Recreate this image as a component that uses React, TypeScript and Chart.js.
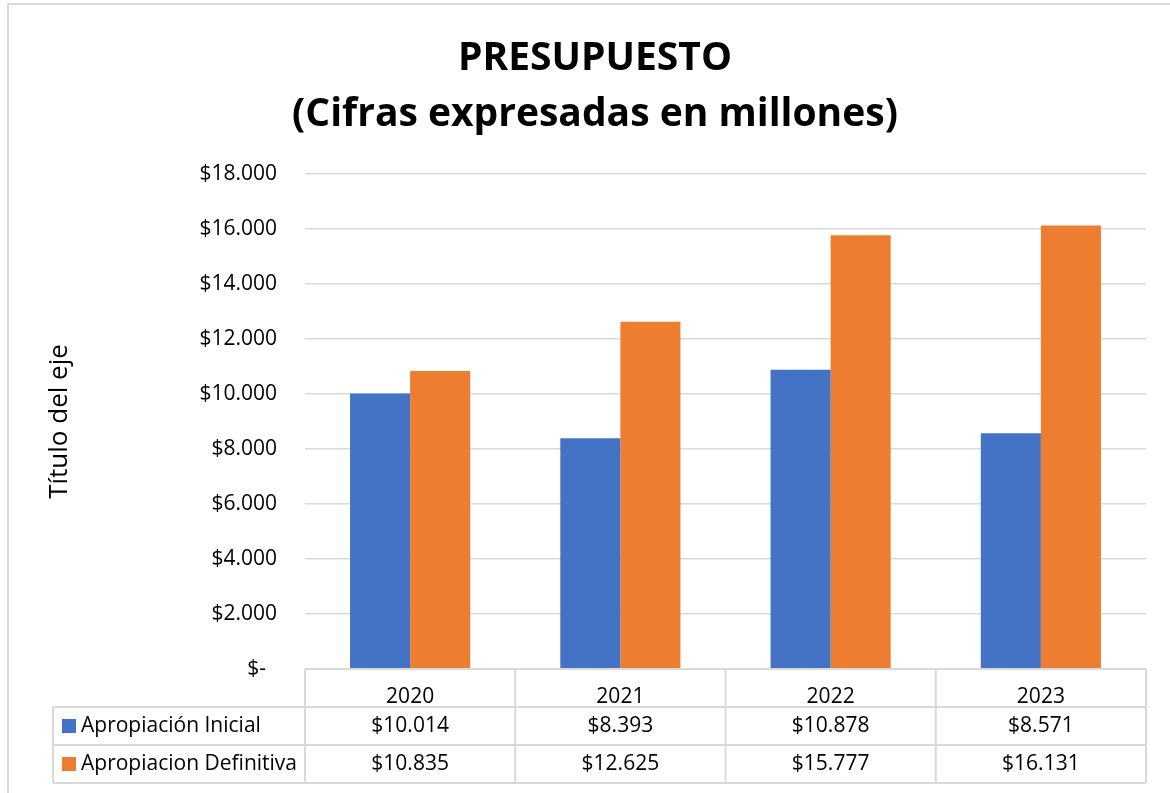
import React, { useEffect, useRef } from "react";
import { Chart, registerables } from "chart.js";

Chart.register(...registerables);

const categories = ["2020", "2021", "2022", "2023"];
const seriesNames = ["Apropiación Inicial", "Apropiacion Definitiva"];
const inicial = [10014, 8393, 10878, 8571];
const definitiva = [10835, 12625, 15777, 16131];
const seriesColors = ["#4472C4", "#ED7D31"];
const titleLines = ["PRESUPUESTO", "(Cifras expresadas en millones)"];
const yAxisTitle = "Título del eje";
const yMin = 0;
const yMax = 18000;
const yStep = 2000;

const FONT = "'Open Sans'";
const GRID = "#d9d9d9";
const TXT = 21;

function fmt(v: number): string {
  if (v === 0) return "$-  ";
  const s = Math.round(v).toString().replace(/\B(?=(\d{3})+(?!\d))/g, ".");
  return "$" + s;
}

const tablePlugin = {
  id: "dataTable",
  afterDraw(chart: any) {
    const { ctx, chartArea } = chart;
    const x = chart.scales.x;
    const left = chartArea.left;
    const right = chartArea.right;
    const colW = (right - left) / categories.length;
    const rowH = 38;
    const top = chartArea.bottom;
    const tableLeft = 53;
    ctx.save();
    ctx.strokeStyle = GRID;
    ctx.lineWidth = 2;
    // outer chart border
    ctx.strokeRect(8, 4, 1300, 1000);
    ctx.beginPath();
    ctx.moveTo(left, top);
    ctx.lineTo(right, top);
    for (let r = 1; r <= 3; r++) {
      ctx.moveTo(tableLeft, top + r * rowH);
      ctx.lineTo(right, top + r * rowH);
    }
    for (let c = 0; c <= categories.length; c++) {
      const cx = left + c * colW;
      ctx.moveTo(cx, top);
      ctx.lineTo(cx, top + 3 * rowH);
    }
    ctx.moveTo(tableLeft, top + rowH);
    ctx.lineTo(tableLeft, top + 3 * rowH);
    ctx.stroke();

    ctx.font = `${TXT}px ${FONT}`;
    ctx.fillStyle = "#000";
    ctx.textBaseline = "middle";
    const rows = [inicial, definitiva];
    rows.forEach((vals, r) => {
      const cy = top + (r + 1) * rowH + rowH / 2;
      ctx.textAlign = "center";
      vals.forEach((v, i) => {
        ctx.fillText(fmt(v), x.getPixelForValue(i), cy);
      });
      ctx.fillStyle = seriesColors[r];
      ctx.fillRect(62, cy - 7, 14, 14);
      ctx.fillStyle = "#000";
      ctx.textAlign = "left";
      ctx.fillText(seriesNames[r], 81, cy);
    });
    ctx.restore();
  },
};

export default function App() {
  const ref = useRef<HTMLCanvasElement>(null);
  useEffect(() => {
    if (!ref.current) return;
    const chart = new Chart(ref.current, {
      type: "bar",
      data: {
        labels: categories,
        datasets: [
          {
            label: seriesNames[0],
            data: inicial,
            backgroundColor: seriesColors[0],
            barPercentage: 1,
            categoryPercentage: 0.5714,
          },
          {
            label: seriesNames[1],
            data: definitiva,
            backgroundColor: seriesColors[1],
            barPercentage: 1,
            categoryPercentage: 0.5714,
          },
        ],
      },
      options: {
        responsive: false,
        animation: false,
        layout: { padding: { left: 44, right: 24, top: 0, bottom: 0 } },
        plugins: {
          legend: { display: false },
          tooltip: { enabled: false },
          title: {
            display: true,
            text: titleLines,
            color: "#000",
            font: { family: FONT, size: 39, weight: "bold", lineHeight: 56 / 39 },
            padding: { top: 31, bottom: 31 },
          },
        },
        scales: {
          x: {
            grid: { display: false },
            border: { display: false },
            ticks: { color: "#000", font: { family: FONT, size: TXT }, padding: 7 },
            afterFit: (s: any) => {
              s.height = 124;
            },
          },
          y: {
            min: yMin,
            max: yMax,
            grid: { color: GRID, lineWidth: 1.5, drawTicks: false },
            border: { display: false },
            ticks: {
              stepSize: yStep,
              color: "#000",
              font: { family: FONT, size: TXT },
              padding: 28,
              callback: (v: any) => fmt(Number(v)),
            },
            title: {
              display: true,
              text: yAxisTitle,
              color: "#000",
              font: { family: FONT, size: 26 },
              padding: 0,
            },
            afterFit: (s: any) => {
              s.width = 305 - 44;
            },
          },
        },
      },
      plugins: [tablePlugin],
    });
    return () => chart.destroy();
  }, []);
  return (
    <canvas
      ref={ref}
      width={1170}
      height={793}
      style={{ position: "fixed", left: 0, top: 0, display: "block" }}
    />
  );
}
